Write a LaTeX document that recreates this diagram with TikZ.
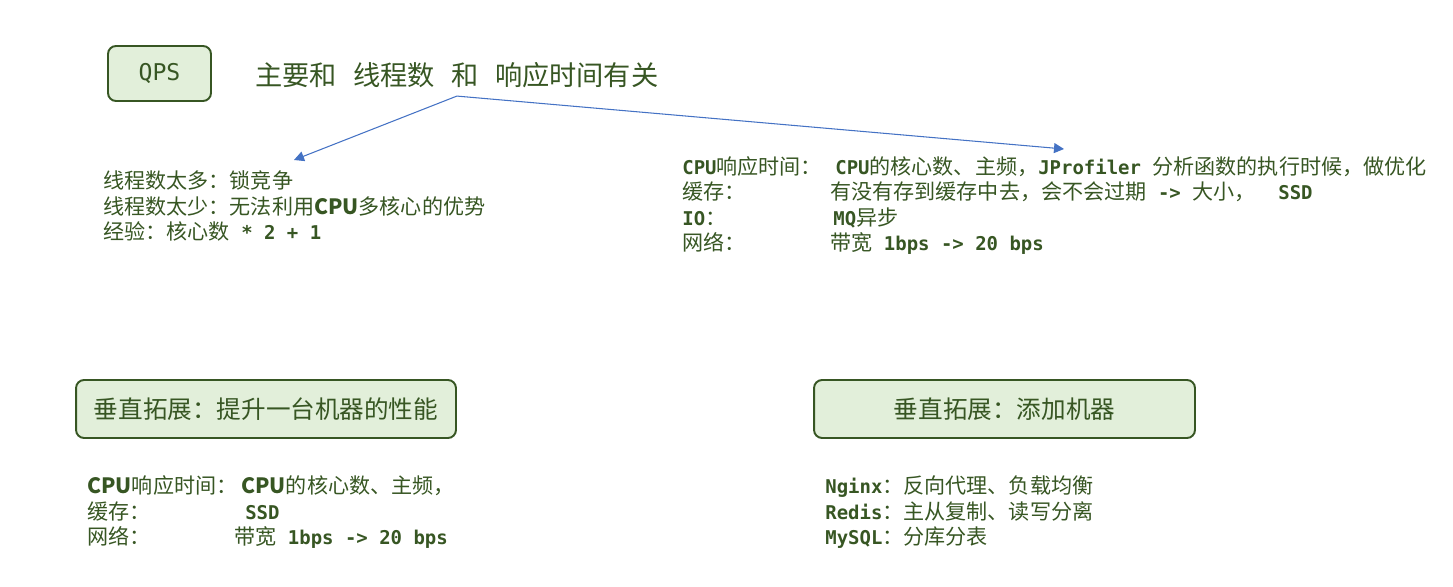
\documentclass[tikz,border=0pt]{standalone}
\usepackage{fontspec}
\setmainfont{Noto Sans CJK SC}
\newfontfamily\codefont[Scale=0.9]{DejaVu Sans Mono}
\usepackage{xcolor}
\usetikzlibrary{calc,arrows.meta}

\definecolor{leafgreen}{HTML}{375623}
\definecolor{paleleaf}{HTML}{E2EFDA}
\definecolor{linkblue}{HTML}{4472C4}

\newcommand{\cd}[1]{{\codefont\bfseries #1}}
\newcommand{\col}[2]{\makebox[#1][l]{#2}}

\tikzset{
  greenbox/.style={draw=leafgreen, fill=paleleaf, line width=1.1pt,
    rounded corners=0.16cm, text=leafgreen},
  notes/.style={anchor=west, inner sep=0pt, align=left, text=leafgreen,
    font=\fontsize{12}{14.5}\selectfont},
  link/.style={draw=linkblue, line width=0.6pt,
    -{Triangle[length=2mm,width=2mm]}}
}

\begin{document}
\begin{tikzpicture}[x=0.02cm,y=-0.02cm]
  \useasboundingbox (0,0) rectangle (1453,587);

  % QPS and title
  \node[greenbox, minimum width=2.06cm, minimum height=1.1cm] (qps) at (159.5,73.5)
    {\codefont\fontsize{14.6}{16}\selectfont QPS};
  \node[anchor=west, inner sep=0pt, text=leafgreen,
    font=\fontsize{15.5}{18}\selectfont] (title) at (255,75)
    {主要和\hspace{.6em}线程数\hspace{.6em}和\hspace{.6em}响应时间有关};

  % Arrows from the title
  \coordinate (fork) at ($(title.south)+(0,8)$);
  \coordinate (thr) at (294,160);
  \coordinate (resp) at (1064,149);
  \draw[link] (fork) -- (thr);
  \draw[link] (fork) -- (resp);

  % Thread count
  \node[notes] (thrnotes) at (103,206)
    {线程数太多：锁竞争\\
     线程数太少：无法利用\textbf{CPU}多核心的优势\\
     经验：核心数\cd{\ * 2 + 1}};

  % Response time
  \node[notes] (respnotes) at (682,205.5)
    {\col{3.06cm}{\cd{CPU}响应时间：}\cd{CPU}的核心数、主频，\cd{JProfiler\ }分析函数的执行时候，做优化\\
     \col{2.96cm}{缓存：}有没有存到缓存中去，会不会过期\cd{\ ->\ }大小，\cd{\ \ SSD}\\
     \col{3.02cm}{\cd{IO}：}\cd{MQ}异步\\
     \col{2.96cm}{网络：}带宽\cd{\ 1bps -> 20 bps}};

  % Scale up
  \node[greenbox, minimum width=7.6cm, minimum height=1.16cm,
    font=\fontsize{14}{16}\selectfont] (scaleup) at (266,409)
    {垂直拓展：提升一台机器的性能};
  \node[notes] (upnotes) at (87,512.5)
    {\col{3.08cm}{\textbf{CPU}响应时间：}\textbf{CPU}的核心数、主频，\\
     \col{3.16cm}{缓存：}\cd{SSD}\\
     \col{2.94cm}{网络：}带宽\cd{\ 1bps -> 20 bps}};

  % Scale out
  \node[greenbox, minimum width=7.62cm, minimum height=1.16cm,
    font=\fontsize{14}{16}\selectfont] (scaleout) at (1004.5,409)
    {垂直拓展：添加机器};
  \node[notes] (outnotes) at (825,512.5)
    {\cd{Nginx}：反向代理、负载均衡\\
     \cd{Redis}：主从复制、读写分离\\
     \cd{MySQL}：分库分表};
\end{tikzpicture}
\end{document}
